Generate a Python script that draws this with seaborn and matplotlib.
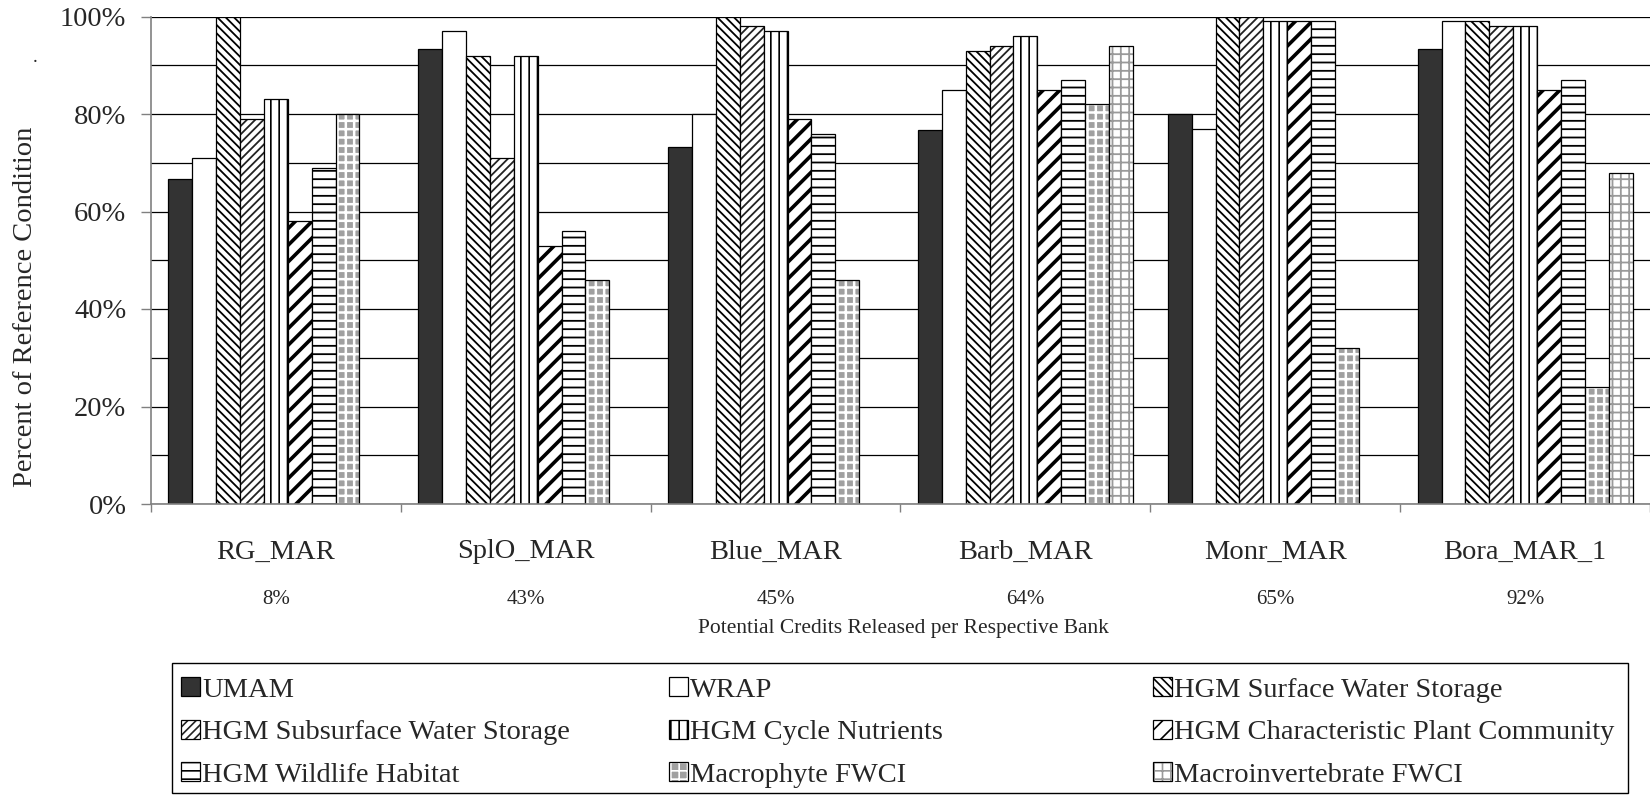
import numpy as np
import pandas as pd
import matplotlib
matplotlib.use("Agg")
import matplotlib.pyplot as plt
import seaborn as sns
from matplotlib.patches import Patch, Rectangle
from matplotlib.colors import to_rgba
from matplotlib.ticker import MultipleLocator, FuncFormatter
from matplotlib.transforms import blended_transform_factory

# ---------------- data ----------------
banks = ["RG_MAR", "SplO_MAR", "Blue_MAR", "Barb_MAR", "Monr_MAR", "Bora_MAR_1"]
credits_released = ["8%", "43%", "45%", "64%", "65%", "92%"]

series_names = [
    "UMAM", "WRAP", "HGM Surface Water Storage", "HGM Subsurface Water Storage",
    "HGM Cycle Nutrients", "HGM Characteristic Plant Community",
    "HGM Wildlife Habitat", "Macrophyte FWCI", "Macroinvertebrate FWCI",
]

umam = [66.7, 93.3, 73.3, 76.7, 80.0, 93.3]
wrap = [71, 97, 80, 85, 77, 99]
hgm_surface = [100, 92, 100, 93, 100, 99]
hgm_subsurface = [79, 71, 98, 94, 100, 98]
hgm_nutrients = [83, 92, 97, 96, 99, 98]
hgm_plant = [58, 53, 79, 85, 99, 85]
hgm_wildlife = [69, 56, 76, 87, 99, 87]
macrophyte = [80, 46, 46, 82, 32, 24]
macroinvert = [None, None, None, 94, None, 68]

series_values = [umam, wrap, hgm_surface, hgm_subsurface, hgm_nutrients,
                 hgm_plant, hgm_wildlife, macrophyte, macroinvert]

rows = []
for name, vals in zip(series_names, series_values):
    for bank, v in zip(banks, vals):
        if v is not None:
            rows.append({"bank": bank, "series": name, "value": v})
df = pd.DataFrame(rows)

# ---------------- styles ----------------
# (facecolor, hatch, hatch colour, hatch linewidth)
styles = [
    ("#333333", "", "black", 1.0),
    ("white", "", "black", 1.0),
    ("white", "\\\\\\\\", "black", 1.3),
    ("white", "////", "#222222", 1.3),
    ("white", "||", "black", 1.2),
    ("white", "//", "black", 2.6),
    ("white", "--", "black", 1.3),
    ("#a0a0a0", "++", "white", 1.8),
    ("white", "++", "#9a9a9a", 1.3),
]

sns.set_style("white")
plt.rcParams["font.family"] = ["Liberation Serif", "DejaVu Serif"]
plt.rcParams["hatch.linewidth"] = 1.2

fig = plt.figure(figsize=(16.5, 7.96), dpi=100)
ax = fig.add_axes([151 / 1650, 1 - 504 / 796, 1 - 151 / 1650, (504 - 16.5) / 796])

sns.barplot(data=df, x="bank", y="value", hue="series", order=banks,
            hue_order=series_names, width=0.86, gap=0, errorbar=None,
            legend=False, ax=ax, saturation=1)


def style_patch(p, st):
    fc, hatch, hc, hlw = st
    p.set_facecolor(fc)
    p.set_edgecolor("black")
    p.set_linewidth(0.9)
    p.set_hatch(hatch if hatch else None)
    p._hatch_color = to_rgba(hc)
    if hasattr(p, "set_hatch_linewidth"):
        try:
            p.set_hatch_linewidth(hlw)
        except Exception:
            pass
    else:
        p._hatch_linewidth = hlw


for cont, st in zip(ax.containers, styles):
    for p in cont.patches:
        style_patch(p, st)

ax.set_xlim(-0.5, len(banks) - 0.5)
ax.set_ylim(0, 100)
ax.set_axisbelow(True)

# y axis
ax.yaxis.set_major_locator(MultipleLocator(20))
ax.yaxis.set_minor_locator(MultipleLocator(10))
ax.yaxis.set_major_formatter(FuncFormatter(lambda v, _: f"{v:.0f}%"))
ax.grid(axis="y", which="both", color="black", linewidth=0.9)
ax.grid(axis="x", visible=False)
ax.tick_params(axis="y", which="major", direction="out", length=7.2, width=1,
               color="#808080", pad=10.5, labelsize=20.5, left=True)
ax.tick_params(axis="y", which="minor", length=0)
ax.set_ylabel("")

# x axis
ax.set_xticks(range(len(banks)))
ax.set_xticklabels(banks)
ax.xaxis.set_minor_locator(MultipleLocator(1, offset=0.5))
ax.tick_params(axis="x", which="major", length=0, pad=25.5, labelsize=20.5)
ax.tick_params(axis="x", which="minor", direction="out", length=6, width=1,
               color="#808080", bottom=True)
ax.set_xlabel("")

for s in ["top", "right"]:
    ax.spines[s].set_visible(False)
for s in ["left", "bottom"]:
    ax.spines[s].set_color("#808080")
    ax.spines[s].set_linewidth(1.2)

# credit percentage labels under categories
trans = blended_transform_factory(ax.transData, fig.transFigure)
for i, lab in enumerate(credits_released):
    ax.text(i, 1 - 600 / 796, lab, transform=trans, ha="center", va="center",
            fontsize=15)

fig.text(0.5475, 1 - 628 / 796, "Potential Credits Released per Respective Bank",
         ha="center", va="center", fontsize=15.5)
fig.text(26 / 1650, 1 - 307 / 796, "Percent of Reference Condition",
         rotation=90, ha="center", va="center", fontsize=20.5)
fig.text(35 / 1650, 1 - 57 / 796, ".", ha="center", va="center", fontsize=14)

# ---------------- legend ----------------
handles = []
for st in styles:
    h = Patch()
    style_patch(h, st)
    handles.append(h)

columns = [[0, 3, 6], [1, 4, 7], [2, 5, 8]]
col_x = [181 / 1650, 669 / 1650, 1153 / 1650]
for xs, idxs in zip(col_x, columns):
    fig.legend([handles[i] for i in idxs], [series_names[i] for i in idxs],
               loc="upper left", bbox_to_anchor=(xs, 1 - 677 / 796),
               frameon=False, borderpad=0, borderaxespad=0,
               handlelength=0.65, handleheight=0.65, handletextpad=0.1,
               labelspacing=0.6, fontsize=20.5)

fig.patches.append(Rectangle((171.5 / 1650, 3 / 796), (1628 - 171.5) / 1650,
                             130 / 796, transform=fig.transFigure,
                             fill=False, edgecolor="black", linewidth=1.0))

fig.savefig("out.png", dpi=100)
